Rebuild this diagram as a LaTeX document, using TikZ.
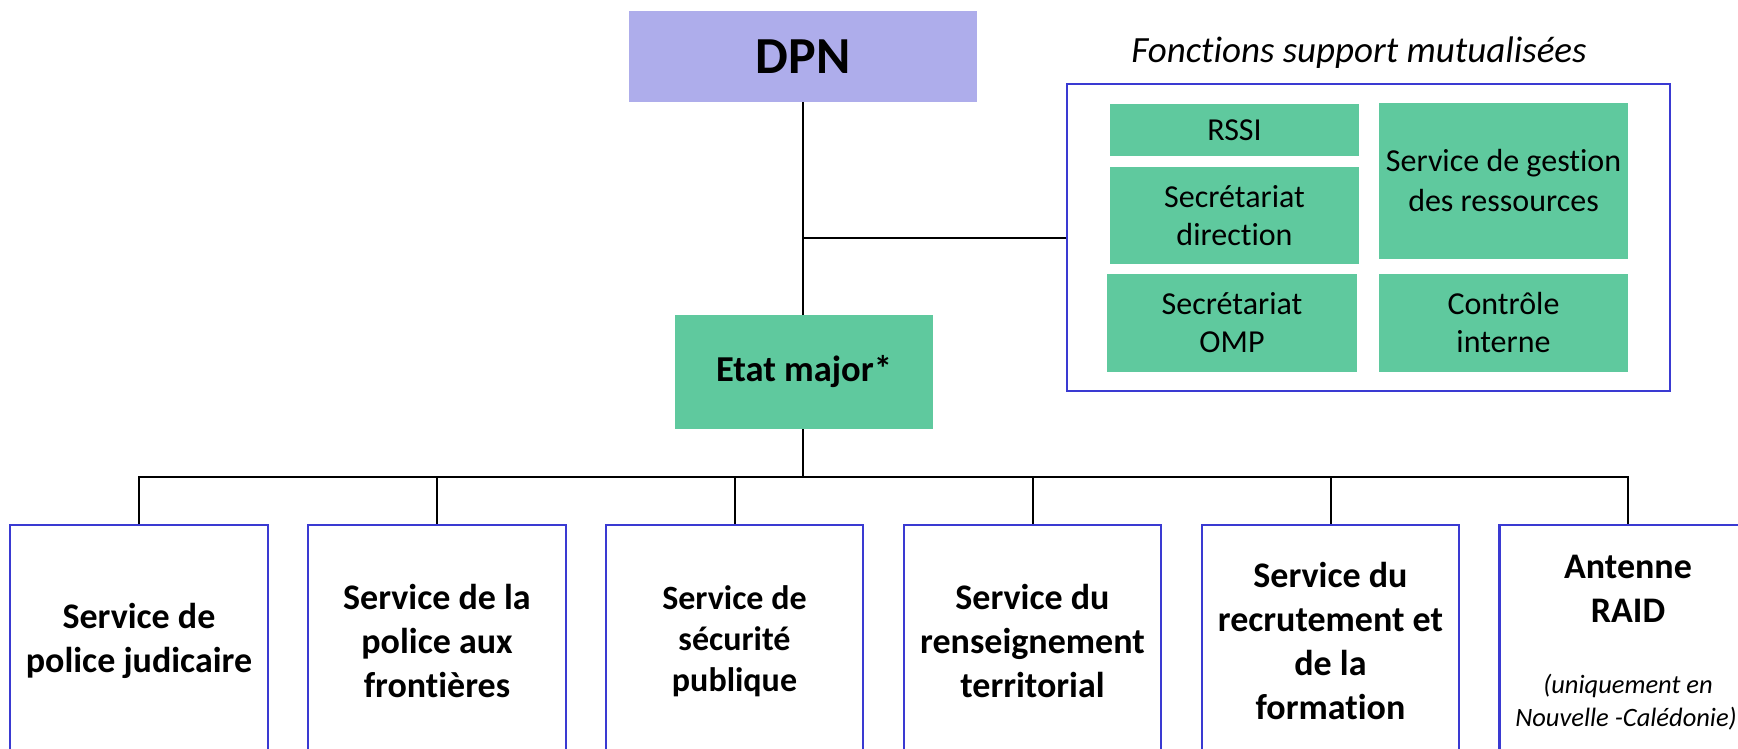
\documentclass[tikz,border=0pt]{standalone}
\usepackage{fontspec}
\setmainfont{Carlito}[Ligatures=NoCommon]
\definecolor{lav}{RGB}{174,173,235}
\definecolor{grn}{RGB}{95,201,158}
\definecolor{bord}{RGB}{58,58,210}
\newcommand\myfs[2]{\fontsize{#1}{#2}\selectfont}
\tikzset{
  dpnbox/.style={fill=lav, inner sep=0pt, minimum width=348pt, minimum height=91pt, font=\bfseries\myfs{52}{60}},
  grnbox/.style={fill=grn, inner sep=0pt, align=center},
  smalltxt/.style={font=\myfs{32}{38}},
  supbox/.style={draw=bord, line width=2.7pt, inner sep=0pt, minimum width=603pt, minimum height=307pt},
  svcbox/.style={draw=bord, line width=2.7pt, fill=white, inner sep=0pt, minimum width=257pt, minimum height=232pt, align=center, font=\bfseries\myfs{36}{44}},
  conn/.style={draw=black, line width=2pt},
  mainconn/.style={draw=black, line width=2.7pt},
}
\begin{document}
\begin{tikzpicture}[x=1pt,y=-1pt]
\useasboundingbox (0,0) rectangle (1738,749);
\clip (0,0) rectangle (1738,749);
\fill[white] (0,0) rectangle (1738,749);

% top
\node[dpnbox] (dpn) at (803,56.5) {DPN};
\node[grnbox, minimum width=258pt, minimum height=114pt, font=\bfseries\myfs{36.5}{44}] (em) at (804,372) {Etat major*};

% support functions
\node[supbox] (sup) at (1368.5,237.5) {};
\node[anchor=base, font=\itshape\myfs{37}{44}] (supt) at (1359,63) {Fonctions support mutualisées};
\node[grnbox, smalltxt, minimum width=249pt, minimum height=52pt] (rssi) at (1234.5,130) {RSSI};
\node[grnbox, smalltxt, minimum width=249pt, minimum height=97pt] (sdir) at (1234.5,215.5) {Secrétariat\\direction};
\node[grnbox, smalltxt, minimum width=250pt, minimum height=98pt] (somp) at (1232,322.5) {Secrétariat\\OMP};
\node[grnbox, font=\myfs{32}{40}, minimum width=249pt, minimum height=155pt] (sgr) at (1503.5,181) {Service de gestion\\des ressources};
\node[grnbox, smalltxt, minimum width=249pt, minimum height=98pt] (ci) at (1503.5,322.5) {Contrôle\\interne};

% services
\node[svcbox, minimum width=258pt] (b1) at (139,641) {Service de\\police judicaire};
\node[svcbox, minimum width=258pt] (b2) at (437,641) {Service de la\\police aux\\frontières};
\node[svcbox, font=\bfseries\myfs{34}{41}] (b3) at (734.5,641) {Service de\\sécurité\\publique};
\node[svcbox] (b4) at (1032.5,641) {Service du\\renseignement\\territorial};
\node[svcbox] (b5) at (1330.5,641) {Service du\\recrutement et\\de la\\formation};
\node[svcbox] (b6) at (1628,641) {};
\node[anchor=base, font=\bfseries\myfs{36}{44}] (b6a) at (1628,578) {Antenne};
\node[anchor=base, font=\bfseries\myfs{36}{44}] (b6b) at (1628,622) {RAID};
\node[anchor=base, font=\itshape\myfs{26.5}{34}] (b6c) at (1628,693) {(uniquement en};
\node[anchor=base, font=\itshape\myfs{26.5}{34}] (b6d) at (1626,726) {Nouvelle -Calédonie)};

% connectors
\coordinate (bus) at (803,477);
\draw[mainconn] (dpn.south) -- (dpn.south |- em.north);
\draw[conn] (sup.west -| dpn.south) -- (sup.west);
\draw[mainconn] (bus |- em.south) -- (bus);
\draw[conn] (b1.north) |- (bus) -| (b6.north);
\foreach \b in {b2,b3,b4,b5} {\draw[conn] (\b.north) -- (\b.north |- bus);}
\end{tikzpicture}
\end{document}
